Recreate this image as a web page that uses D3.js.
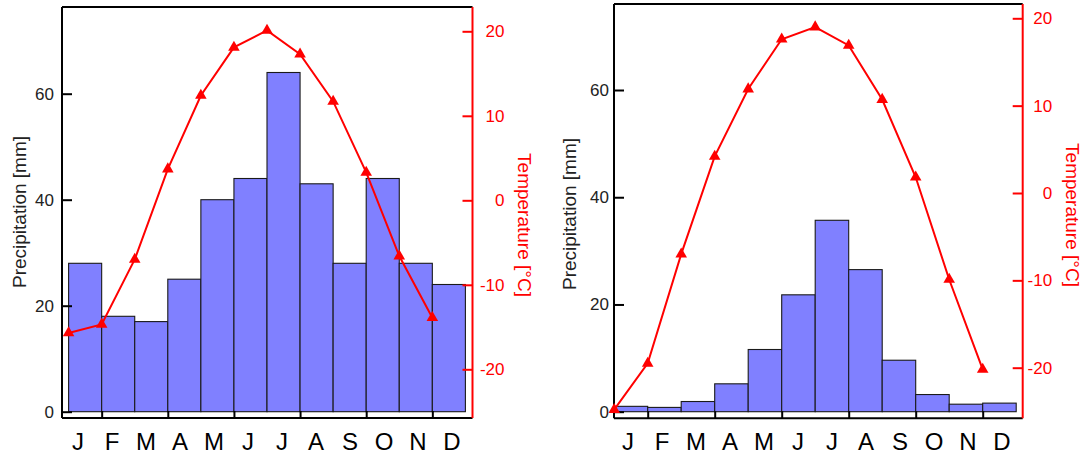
<!DOCTYPE html>
<html lang="en">
<head>
    <meta charset="UTF-8">
    <title>Climate diagrams</title>
    <script src="https://d3js.org/d3.v7.min.js"></script>
    <style>
        body {
            margin: 0;
            background-color: #ffffff;
        }
        svg text {
            font-family: 'Liberation Sans', Arial, Helvetica, sans-serif;
        }
    </style>
</head>
<body>
    <svg id="chart" width="1089" height="457"></svg>
    <script>
        // data
        const months = ['J', 'F', 'M', 'A', 'M', 'J', 'J', 'A', 'S', 'O', 'N', 'D'];
        const precipLeft = [28, 18, 17, 25, 40, 44, 64, 43, 28, 44, 28, 24];
        const tempLeft = [-15.7, -14.7, -7.0, 3.7, 12.4, 18.1, 20.1, 17.3, 11.7, 3.3, -6.6, -13.9];
        const precipRight = [1.0, 0.8, 1.9, 5.2, 11.6, 21.8, 35.7, 26.5, 9.6, 3.2, 1.4, 1.6];
        const tempRight = [-24.8, -19.5, -7.0, 4.2, 11.9, 17.6, 19.0, 16.9, 10.7, 1.8, -9.9, -20.2];
        const precipTicks = [0, 20, 40, 60];
        const tempTicks = [-20, -10, 0, 10, 20];
        const monthTicks = [1, 3, 5, 7, 9, 11];

        const svg = d3.select('#chart');
        const barColor = '#8080ff';
        const tempColor = '#ff0000';

        function drawPanel(p, precip, temp) {
            const g = svg.append('g');

            // scales
            const xEdge = d3.scaleLinear().domain([0, 12]).range([p.barStart, p.barEnd]);
            const xLabel = d3.scalePoint().domain(d3.range(12)).range([p.labelStart, p.labelStart + 374]);
            const yPrecip = d3.scaleLinear().domain([0, 60]).range([p.precip0, p.precip60]);
            const yTemp = d3.scaleLinear().domain([-20, 20]).range([p.tempM20, p.temp20]);

            // bars
            g.selectAll('rect.bar')
                .data(precip)
                .enter()
                .append('rect')
                .attr('class', 'bar')
                .attr('x', (d, i) => xEdge(i))
                .attr('y', d => yPrecip(d))
                .attr('width', (d, i) => xEdge(i + 1) - xEdge(i))
                .attr('height', d => yPrecip(0) - yPrecip(d))
                .attr('fill', barColor)
                .attr('stroke', '#1a1a1a')
                .attr('stroke-width', 1.1);

            // frame: top and bottom black lines
            g.append('line')
                .attr('x1', p.left).attr('x2', p.right)
                .attr('y1', p.top).attr('y2', p.top)
                .attr('stroke', '#000').attr('stroke-width', 2);
            g.append('line')
                .attr('x1', p.left).attr('x2', p.right)
                .attr('y1', p.bottom).attr('y2', p.bottom)
                .attr('stroke', '#000').attr('stroke-width', 2);

            // month ticks on bar boundaries, every two months
            const xAxis = g.append('g')
                .attr('transform', `translate(0,${p.bottom})`)
                .call(d3.axisBottom(xEdge).tickValues(monthTicks).tickSizeInner(-7).tickSizeOuter(0).tickFormat(''));
            xAxis.select('.domain').remove();
            xAxis.selectAll('line').attr('stroke', '#000').attr('stroke-width', 2);

            // month labels
            g.selectAll('text.month')
                .data(months)
                .enter()
                .append('text')
                .attr('class', 'month')
                .attr('x', (d, i) => xLabel(i))
                .attr('y', 450)
                .attr('text-anchor', 'middle')
                .attr('font-size', 24)
                .attr('fill', '#000')
                .text(d => d);

            // precipitation axis (left)
            const leftAxis = g.append('g')
                .attr('transform', `translate(${p.left},0)`)
                .call(d3.axisLeft(yPrecip).tickValues(precipTicks).tickSizeInner(-10).tickSizeOuter(0).tickPadding(p.leftPad));
            leftAxis.select('.domain').remove();
            leftAxis.append('line')
                .attr('y1', p.top).attr('y2', p.bottom)
                .attr('stroke', '#000').attr('stroke-width', 2);
            leftAxis.selectAll('.tick line').attr('stroke', '#000').attr('stroke-width', 2);
            leftAxis.selectAll('.tick text')
                .attr('font-size', 17)
                .attr('font-family', "'Liberation Sans', Arial, sans-serif")
                .attr('fill', '#222');

            // temperature axis (right)
            const rightAxis = g.append('g')
                .attr('transform', `translate(${p.right},0)`)
                .call(d3.axisRight(yTemp).tickValues(tempTicks).tickSizeInner(-10).tickSizeOuter(0));
            rightAxis.select('.domain').remove();
            rightAxis.append('line')
                .attr('y1', p.top).attr('y2', p.bottom)
                .attr('stroke', tempColor).attr('stroke-width', 2);
            rightAxis.selectAll('.tick line').attr('stroke', tempColor).attr('stroke-width', 2);
            rightAxis.selectAll('.tick text')
                .attr('x', p.rightPad)
                .attr('text-anchor', 'end')
                .attr('font-size', 17)
                .attr('font-family', "'Liberation Sans', Arial, sans-serif")
                .attr('fill', tempColor)
                .text(d => d);

            // temperature line + triangles, placed at the month start
            const line = d3.line()
                .x((d, i) => xEdge(i))
                .y(d => yTemp(d));

            g.append('path')
                .datum(temp)
                .attr('d', line)
                .attr('fill', 'none')
                .attr('stroke', tempColor)
                .attr('stroke-width', 2);

            g.selectAll('path.marker')
                .data(temp)
                .enter()
                .append('path')
                .attr('class', 'marker')
                .attr('d', d3.symbol().type(d3.symbolTriangle).size(58))
                .attr('transform', (d, i) => `translate(${xEdge(i)},${yTemp(d)})`)
                .attr('fill', tempColor);

            // axis titles
            g.append('text')
                .attr('transform', `translate(${p.precipTitleX},${p.precipTitleY}) rotate(-90)`)
                .attr('text-anchor', 'middle')
                .attr('font-size', 19)
                .attr('fill', '#222')
                .text('Precipitation [mm]');

            g.append('text')
                .attr('transform', `translate(${p.tempTitleX},${p.tempTitleY}) rotate(90)`)
                .attr('text-anchor', 'middle')
                .attr('font-size', 19)
                .attr('fill', tempColor)
                .text('Temperature [°C]');
        }

        // left diagram
        drawPanel({
            left: 62, right: 472.5, top: 7, bottom: 418,
            barStart: 68.6, barEnd: 465.4, labelStart: 78,
            precip0: 411.7, precip60: 93.7,
            tempM20: 369.3, temp20: 31.3,
            leftPad: 8, rightPad: 32,
            precipTitleX: 26, precipTitleY: 212,
            tempTitleX: 518, tempTitleY: 225
        }, precipLeft, tempLeft);

        // right diagram
        drawPanel({
            left: 614, right: 1022.7, top: 4, bottom: 418.3,
            barStart: 614.2, barEnd: 1016.2, labelStart: 628,
            precip0: 411.7, precip60: 90,
            tempM20: 367.7, temp20: 18.3,
            leftPad: 5, rightPad: 29.5,
            precipTitleX: 576, precipTitleY: 214,
            tempTitleX: 1066, tempTitleY: 215
        }, precipRight, tempRight);
    </script>
</body>
</html>
